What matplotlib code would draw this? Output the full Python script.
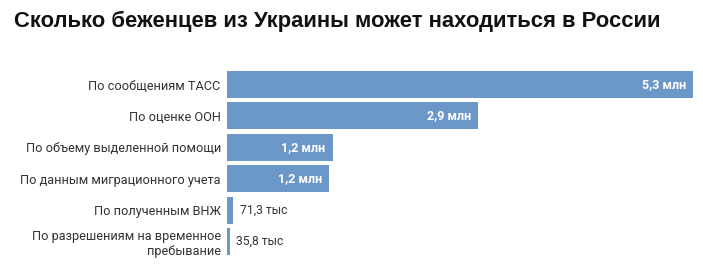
import numpy as np
import matplotlib.pyplot as plt

categories = [
    "По сообщениям ТАСС",
    "По оценке ООН",
    "По объему выделенной помощи",
    "По данным миграционного учета",
    "По полученным ВНЖ",
    "По разрешениям на временное\nпребывание",
]
values = [5.3, 2.86, 1.2, 1.16, 0.0713, 0.0358]
value_labels = ["5,3 млн", "2,9 млн", "1,2 млн", "1,2 млн", "71,3 тыс", "35,8 тыс"]

bar_color = "#6b98c9"
text_color = "#333333"

fig = plt.figure(figsize=(7.03, 2.74), dpi=100)
ax = fig.add_axes([227 / 703, 0.0613, 466 / 703, 0.6876])

y = np.arange(len(categories))
ax.barh(y, values, height=0.86, color=bar_color)
ax.set_xlim(0, 5.3)
ax.set_ylim(len(categories) - 0.5, -0.5)

ax.set_yticks(y)
ax.set_yticklabels(categories, fontsize=9.2, family="Roboto", color=text_color,
                   linespacing=1.15)
ax.tick_params(axis="y", length=0, pad=4.5)
ax.set_xticks([])
for s in ax.spines.values():
    s.set_visible(False)

for yi, v, lab in zip(y, values, value_labels):
    if v > 0.5:
        ax.annotate(lab, (v, yi), xytext=(-5, 0), textcoords="offset points",
                    ha="right", va="center", fontsize=9, family="Roboto",
                    fontweight="bold", color="white")
    else:
        ax.annotate(lab, (v, yi), xytext=(4.5, 0), textcoords="offset points",
                    ha="left", va="center", fontsize=8.7, family="Roboto",
                    color=text_color)

fig.text(14 / 703, 1 - 21 / 274, "Сколько беженцев из Украины может находиться в России",
         fontsize=15.8, fontweight="bold", family="Liberation Sans", color="#111111",
         ha="left", va="center")

fig.savefig("out.png", dpi=100)
